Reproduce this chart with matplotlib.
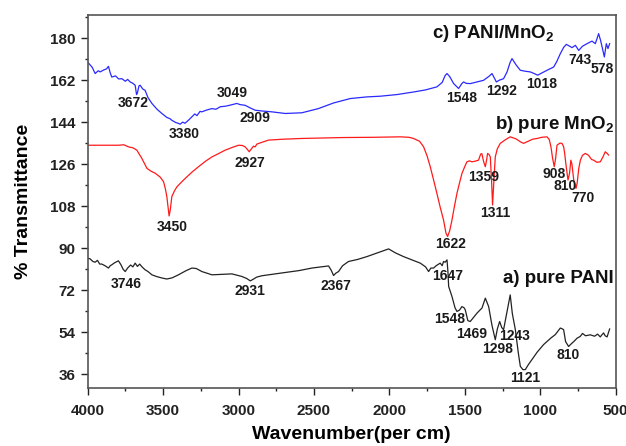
import matplotlib
matplotlib.use("Agg")
import matplotlib.pyplot as plt
from matplotlib.ticker import MultipleLocator

plt.rcParams['font.family'] = ['Liberation Sans', 'DejaVu Sans']
plt.rcParams['font.weight'] = 'bold'
plt.rcParams['mathtext.fontset'] = 'custom'
plt.rcParams['mathtext.rm'] = 'Liberation Sans'
plt.rcParams['mathtext.bf'] = 'Liberation Sans:bold'

# c) PANI/MnO2 (blue)
blue_wn = [4000, 3970, 3950, 3930, 3917, 3895, 3875, 3862, 3850, 3840, 3815, 3795, 3773, 3750,
           3735, 3718, 3700, 3685, 3676, 3670, 3660, 3652, 3635, 3619, 3600, 3574, 3540, 3508,
           3475, 3455, 3442, 3415, 3400, 3387, 3370, 3355, 3332, 3310, 3290, 3275, 3255, 3243,
           3210, 3176, 3150, 3120, 3088, 3060, 3035, 3011, 2990, 2956, 2920, 2889, 2850, 2779,
           2690, 2580, 2470, 2370, 2259, 2150, 2060, 1950, 1840, 1760, 1685, 1650, 1630, 1618,
           1600, 1574, 1541, 1520, 1508, 1490, 1464, 1420, 1376, 1340, 1320, 1305, 1291, 1270,
           1243, 1220, 1200, 1187, 1160, 1132, 1100, 1066, 1040, 1017, 985, 955, 911, 890, 867,
           845, 827, 805, 789, 767, 745, 720, 690, 657, 635, 625, 613, 600, 590, 575, 568, 562,
           551, 540]
blue_t = [169.7, 167.5, 164.8, 166.0, 165.5, 166.3, 166.8, 167.9, 165.0, 163.3, 163.8, 162.5,
          162.6, 161.5, 162.3, 161.2, 160.6, 159.8, 155.8, 156.5, 159.5, 159.8, 158.2, 157.6,
          154.5, 152.0, 149.5, 147.7, 146.0, 145.5, 144.8, 143.8, 143.5, 143.1, 144.0, 143.5,
          144.8, 146.2, 147.5, 146.8, 148.6, 148.4, 149.2, 149.8, 149.5, 150.6, 150.8, 151.2,
          151.6, 152.0, 151.5, 151.2, 150.0, 149.1, 148.8, 148.4, 147.7, 148.0, 149.8, 152.2,
          154.1, 154.8, 155.1, 155.8, 156.9, 157.8, 159.1, 161.0, 164.0, 164.8, 163.5, 160.5,
          158.4, 160.5, 161.2, 160.6, 160.5, 161.2, 161.9, 163.6, 164.8, 163.0, 161.2, 162.0,
          162.6, 165.5, 169.5, 171.2, 168.5, 166.2, 165.8, 165.5, 164.8, 164.1, 165.2, 166.2,
          167.6, 170.0, 173.3, 176.0, 177.3, 176.5, 175.9, 176.9, 174.7, 176.5, 177.6, 178.7,
          177.6, 179.5, 181.9, 179.0, 176.2, 171.9, 175.0, 177.6, 175.5, 177.6]

# b) pure MnO2 (red)
red_wn = [4000, 3900, 3796, 3760, 3729, 3700, 3674, 3641, 3607, 3580, 3552, 3520, 3497, 3485,
          3475, 3465, 3460, 3452, 3442, 3425, 3408, 3380, 3353, 3310, 3265, 3220, 3176, 3130,
          3088, 3040, 3000, 2975, 2956, 2940, 2929, 2915, 2901, 2890, 2878, 2856, 2801, 2700,
          2580, 2304, 2100, 1928, 1870, 1840, 1800, 1773, 1750, 1729, 1706, 1685, 1663, 1641,
          1625, 1614, 1600, 1585, 1570, 1552, 1535, 1519, 1500, 1486, 1470, 1452, 1430, 1409,
          1395, 1387, 1375, 1364, 1355, 1349, 1338, 1331, 1322, 1316, 1308, 1298, 1285, 1265,
          1230, 1199, 1160, 1130, 1110, 1080, 1050, 1021, 990, 955, 940, 929, 918, 907, 898,
          889, 870, 856, 845, 838, 828, 816, 806, 797, 790, 778, 763, 755, 745, 734, 720, 701,
          680, 660, 646, 625, 602, 585, 569, 555, 547]
red_t = [134.1, 134.1, 134.1, 134.3, 133.4, 133.0, 132.0, 128.5, 124.2, 123.0, 122.1, 120.5,
         118.5, 115.5, 112.1, 106.5, 103.8, 106.5, 112.1, 114.5, 116.3, 118.2, 119.9, 122.5,
         124.9, 127.2, 129.1, 130.6, 132.0, 133.2, 134.1, 134.0, 133.4, 132.2, 131.3, 132.5,
         133.7, 133.4, 134.6, 135.1, 136.3, 136.7, 137.0, 137.4, 137.5, 137.7, 137.5, 137.0,
         135.8, 133.4, 129.5, 124.9, 119.0, 113.5, 107.5, 102.1, 96.5, 95.0, 97.5, 102.1,
         107.5, 113.5, 118.0, 122.0, 125.0, 127.0, 127.4, 127.0, 127.3, 127.7, 130.3, 130.5,
         127.0, 124.9, 128.0, 130.6, 130.0, 129.1, 118.0, 108.5, 118.0, 129.1, 132.5, 134.9,
         136.5, 137.7, 136.8, 135.5, 134.9, 135.8, 136.7, 137.0, 137.5, 137.7, 136.5, 133.4,
         128.5, 124.9, 128.5, 134.1, 135.0, 134.9, 133.5, 130.6, 125.0, 119.2, 122.0, 127.7,
         126.0, 119.2, 115.6, 118.0, 124.0, 127.7, 129.8, 130.6, 129.8, 128.0, 127.7, 126.8,
         127.0, 129.0, 131.3, 130.5, 129.9]

# a) pure PANI (black)
black_wn = [4000, 3985, 3965, 3950, 3935, 3920, 3906, 3885, 3862, 3850, 3840, 3820, 3796, 3780,
            3765, 3751, 3735, 3715, 3700, 3685, 3670, 3655, 3641, 3620, 3600, 3574, 3540, 3505,
            3475, 3440, 3398, 3350, 3309, 3280, 3243, 3176, 3110, 3044, 2978, 2945, 2922, 2900,
            2880, 2845, 2780, 2690, 2600, 2513, 2450, 2403, 2385, 2370, 2355, 2337, 2310, 2271,
            2210, 2149, 2080, 2005, 1960, 1906, 1850, 1795, 1760, 1740, 1725, 1707, 1690, 1663,
            1650, 1641, 1630, 1618, 1612, 1607, 1585, 1565, 1552, 1535, 1519, 1505, 1497, 1480,
            1464, 1440, 1419, 1386, 1364, 1342, 1320, 1298, 1284, 1269, 1255, 1243, 1220, 1199,
            1185, 1165, 1145, 1132, 1115, 1099, 1080, 1055, 1020, 978, 930, 900, 867, 855, 845,
            832, 812, 795, 778, 755, 735, 720, 700, 668, 640, 620, 602, 590, 580, 570, 557, 548,
            540]
black_t = [85.7, 85.5, 84.3, 84.0, 84.8, 83.2, 83.2, 82.5, 81.5, 82.5, 82.9, 83.8, 84.6, 83.0,
           81.0, 80.0, 81.5, 82.8, 82.0, 83.6, 82.2, 83.2, 82.1, 80.8, 80.0, 78.6, 77.8, 77.2,
           76.8, 77.3, 78.6, 80.3, 81.5, 81.3, 80.0, 78.6, 78.8, 79.0, 77.9, 77.0, 76.0, 76.8,
           77.6, 78.2, 78.8, 79.6, 80.4, 81.5, 82.0, 82.4, 80.5, 78.3, 79.3, 80.0, 82.5, 84.3,
           85.2, 86.4, 88.0, 89.7, 88.0, 86.4, 85.0, 83.6, 82.0, 80.0, 81.5, 81.5, 82.5, 83.6,
           82.5, 84.3, 84.0, 85.0, 80.0, 73.6, 69.3, 64.5, 62.9, 63.5, 65.0, 64.5, 63.6, 59.0,
           58.6, 60.5, 62.2, 64.4, 68.6, 65.0, 57.0, 50.8, 55.5, 58.6, 56.0, 55.1, 63.0, 70.0,
           62.0, 55.1, 45.0, 39.4, 38.0, 38.0, 40.0, 42.3, 45.5, 48.7, 51.5, 53.0, 55.8, 55.5,
           55.1, 50.0, 47.9, 49.0, 50.0, 51.5, 52.2, 53.5, 52.5, 52.9, 52.3, 53.2, 52.0, 53.0,
           53.7, 52.5, 52.0, 53.8, 55.4]

# peak labels: (text, wavenumber, transmittance)
blue_peaks = [("3672", 3700, 152.2), ("3380", 3360, 139.1), ("3049", 3040, 156.5),
              ("2909", 2889, 145.6), ("1548", 1523, 154.5), ("1292", 1254, 157.4),
              ("1018", 988, 160.2), ("743", 734, 170.5), ("578", 590, 166.6)]
red_peaks = [("3450", 3442, 99.0), ("2927", 2922, 126.6), ("1622", 1596, 91.8),
             ("1359", 1376, 120.6), ("1311", 1298, 105.0), ("908", 907, 121.7),
             ("810", 834, 116.6), ("770", 717, 111.4)]
black_peaks = [("3746", 3745, 74.7), ("2931", 2922, 71.5), ("2367", 2354, 73.6),
               ("1647", 1612, 78.2), ("1548", 1601, 59.7), ("1469", 1452, 53.4),
               ("1243", 1170, 52.2), ("1298", 1283, 47.0), ("1121", 1099, 34.2),
               ("810", 816, 44.2)]

fig = plt.figure(figsize=(6.26, 4.46), dpi=100)
ax = fig.add_axes([0.14, 0.1294, 0.8435, 0.8376])

ax.plot(blue_wn, blue_t, color='#2a2aff', lw=0.9)
ax.plot(red_wn, red_t, color='#ff1a1a', lw=0.9)
ax.plot(black_wn, black_t, color='#222222', lw=0.9)

for peaks in (blue_peaks, red_peaks, black_peaks):
    for txt, x, y in peaks:
        ax.text(x, y, txt, ha='center', va='center', fontsize=10, fontweight='bold',
                color='#1a1a1a')

ax.text(1313, 181.9, r"c) PANI/MnO$_\mathbf{2}$", ha='center', va='center', fontsize=13.5,
        fontweight='bold', color='#111111')
ax.text(510, 143.1, r"b) pure MnO$_\mathbf{2}$", ha='right', va='center', fontsize=13.5,
        fontweight='bold', color='#111111')
ax.text(515, 76.9, "a) pure PANI", ha='right', va='center', fontsize=13.5,
        fontweight='bold', color='#111111')

ax.set_xlim(4000, 500)
ax.set_ylim(30, 190)
ax.xaxis.set_major_locator(MultipleLocator(500))
ax.xaxis.set_minor_locator(MultipleLocator(250))
ax.yaxis.set_major_locator(MultipleLocator(18))
ax.yaxis.set_minor_locator(MultipleLocator(9))
ax.set_yticks([36, 54, 72, 90, 108, 126, 144, 162, 180])
ax.tick_params(which='major', direction='out', length=5, width=1, labelsize=11, colors='#222222')
ax.tick_params(which='minor', direction='out', length=2.5, width=1, colors='#222222')
ax.tick_params(axis='x', pad=6)
ax.tick_params(axis='y', pad=4)
for s in ax.spines.values():
    s.set_color('#555555')
    s.set_linewidth(1.2)

ax.set_xlabel("Wavenumber(per cm)", fontsize=14, fontweight='bold', labelpad=6)
ax.set_ylabel("% Transmittance", fontsize=14, fontweight='bold', labelpad=13)

fig.savefig("out.png", dpi=100)
